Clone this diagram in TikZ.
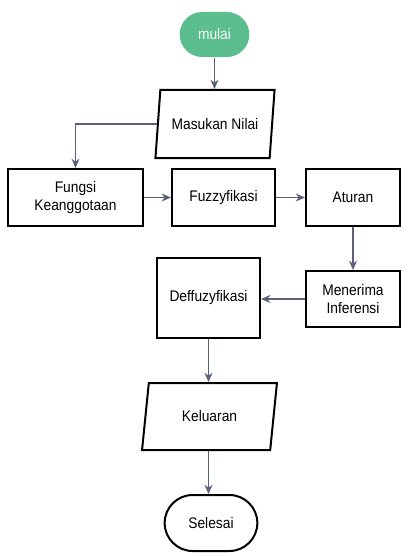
\documentclass[tikz,border=0pt]{standalone}
\usepackage{fontspec}
\setmainfont[FakeStretch=0.9]{Liberation Sans}
\usetikzlibrary{shapes.geometric,shapes.misc,arrows.meta}
\definecolor{startgreen}{RGB}{92,190,142}
\definecolor{arrowgray}{RGB}{90,96,120}
\tikzset{
  box/.style={draw=black, line width=1.5pt, fill=white, align=center, font=\fontsize{11.5}{14}\selectfont, inner sep=2pt},
  para/.style={box, trapezium, trapezium stretches=true},
  term/.style={box, rounded rectangle},
  arr/.style={draw=arrowgray, line width=1pt, -{Stealth[length=7pt,width=6pt]}},
}
\begin{document}
\begin{tikzpicture}[x=0.75pt,y=-0.75pt]
\useasboundingbox (0,0) rectangle (408,556);
\node[term, draw=none, fill=startgreen, text=white, minimum width=75*0.75pt, minimum height=45*0.75pt] (mulai) at (214.5,34.5) {mulai};
\node[para, trapezium left angle=76, trapezium right angle=104, minimum width=120*0.75pt, minimum height=68*0.75pt] (masukan) at (215,124) {Masukan Nilai};
\node[box, minimum width=135*0.75pt, minimum height=57*0.75pt] (fungsi) at (75.5,197.5) {Fungsi\\Keanggotaan};
\node[box, minimum width=103*0.75pt, minimum height=57*0.75pt] (fuzzy) at (223.5,197.5) {Fuzzyfikasi};
\node[box, minimum width=94*0.75pt, minimum height=57*0.75pt] (aturan) at (353,197.5) {Aturan};
\node[box, minimum width=94*0.75pt, minimum height=56*0.75pt] (menerima) at (353,299) {Menerima\\Inferensi};
\node[box, minimum width=103*0.75pt, minimum height=80*0.75pt] (deffuzy) at (208.5,298) {Deffuzyfikasi};
\node[para, trapezium left angle=78.5, trapezium right angle=101.5, minimum width=135*0.75pt, minimum height=67*0.75pt] (keluaran) at (209.5,416.5) {Keluaran};
\node[term, minimum width=98*0.75pt, minimum height=56*0.75pt] (selesai) at (211,523) {Selesai};

\draw[arr] (mulai.south) -- (masukan.north -| mulai.south);
\draw[arr] (masukan.west) -| (fungsi.north);
\draw[arr] (fungsi.east) -- (fuzzy.west);
\draw[arr] (fuzzy.east) -- (aturan.west);
\draw[arr] (aturan.south) -- (menerima.north);
\draw[arr] (menerima.west) -- (deffuzy.east |- menerima.west);
\draw[arr] (deffuzy.south) -- (keluaran.north -| deffuzy.south);
\draw[arr] (keluaran.south -| deffuzy.south) -- (selesai.north -| deffuzy.south);
\end{tikzpicture}
\end{document}
